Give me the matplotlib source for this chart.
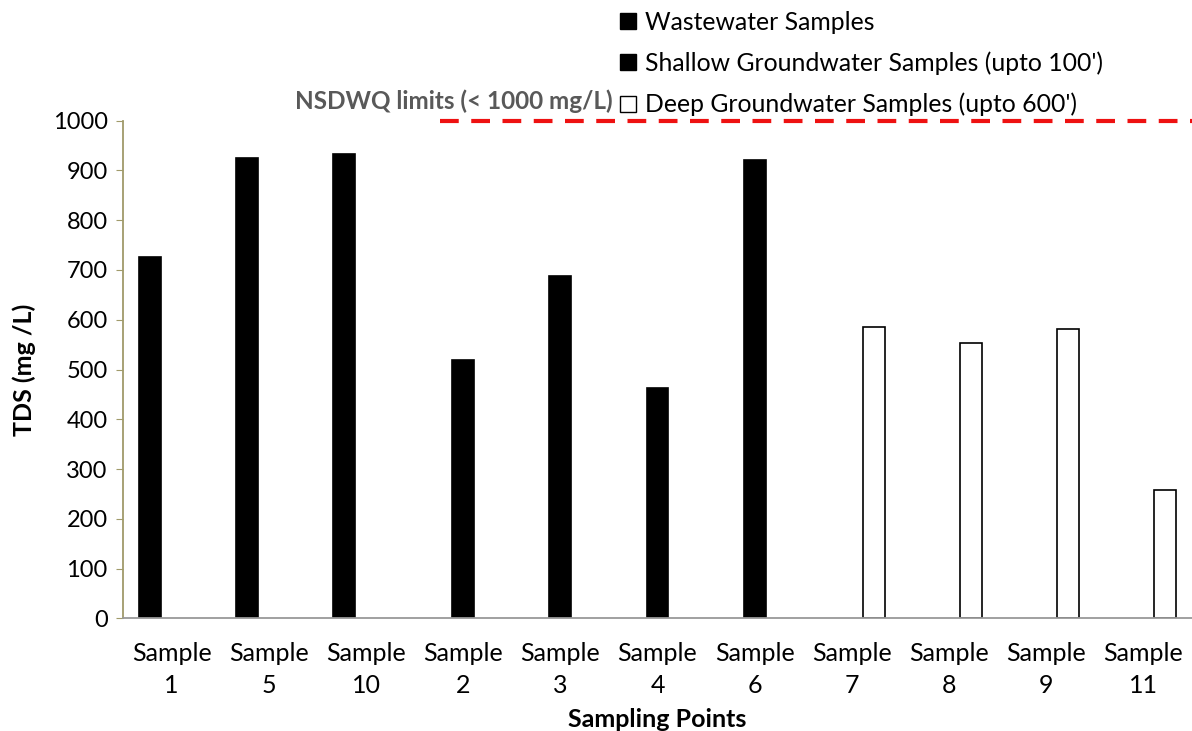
import matplotlib.pyplot as plt
import numpy as np
from matplotlib.lines import Line2D

plt.rcParams['font.family'] = ['Lato', 'DejaVu Sans']

# Data
samples = ['Sample\n1', 'Sample\n5', 'Sample\n10', 'Sample\n2', 'Sample\n3', 'Sample\n4',
           'Sample\n6', 'Sample\n7', 'Sample\n8', 'Sample\n9', 'Sample\n11']
tds = [727, 925, 933, 520, 688, 463, 920, 585, 553, 582, 257]
groups = [0, 0, 0, 1, 1, 1, 1, 2, 2, 2, 2]   # 0 wastewater, 1 shallow, 2 deep
series_names = ['Wastewater Samples', 'Shallow Groundwater Samples (upto 100\')',
                'Deep Groundwater Samples (upto 600\')']
limit = 1000
limit_label = 'NSDWQ limits (< 1000 mg/L)'

fig = plt.figure(figsize=(11.92, 7.31), dpi=100)
ax = fig.add_axes([0.1032, 0.154, 0.8968, 0.681])

bar_w = 0.226
x = np.arange(len(samples))
for g in range(3):
    idx = [i for i, gg in enumerate(groups) if gg == g]
    face = 'black' if g < 2 else 'white'
    ax.bar(x[idx] + (g - 1) * bar_w, [tds[i] for i in idx], bar_w,
           color=face, edgecolor='black', linewidth=1.2, zorder=2)

# limit line
ax.plot([2.76, len(samples) - 0.5], [limit, limit], color='#ee1111', lw=3,
        dashes=(4.5, 3), clip_on=False, zorder=3)

ax.set_xlim(-0.5, len(samples) - 0.5)
ax.set_ylim(0, 1000)
ax.set_yticks(np.arange(0, 1001, 100))
ax.set_xticks(x)
ax.set_xticklabels(samples, fontsize=18, linespacing=1.45)
ax.tick_params(axis='y', labelsize=17, direction='out', length=5, color='#a09a6a', pad=6)
ax.tick_params(axis='x', length=0, pad=17)

for s in ['top', 'right']:
    ax.spines[s].set_visible(False)
ax.spines['left'].set_color('#a09a6a')
ax.spines['left'].set_linewidth(1.3)
ax.spines['bottom'].set_color('#999999')
ax.spines['bottom'].set_linewidth(1.3)

ax.set_ylabel('TDS (mg /L)', fontsize=18, fontweight='bold', labelpad=12)
ax.set_xlabel('Sampling Points', fontsize=18, fontweight='bold', labelpad=8)

# legend
handles = [Line2D([], [], ls='none', marker='s', ms=11, mfc='black', mec='black'),
           Line2D([], [], ls='none', marker='s', ms=11, mfc='black', mec='black'),
           Line2D([], [], ls='none', marker='s', ms=11, mfc='white', mec='black', mew=1)]
fig.legend(handles, series_names, loc='upper left', bbox_to_anchor=(0.512, 0.999),
           frameon=False, fontsize=17.8, handlelength=0.6, handletextpad=0.4,
           labelspacing=0.72, borderaxespad=0)
fig.text(0.514, 1 - 101 / 731, limit_label, ha='right', va='center', fontsize=17.5,
         fontweight='bold', color='#595959')

fig.savefig('out.png', dpi=100)
